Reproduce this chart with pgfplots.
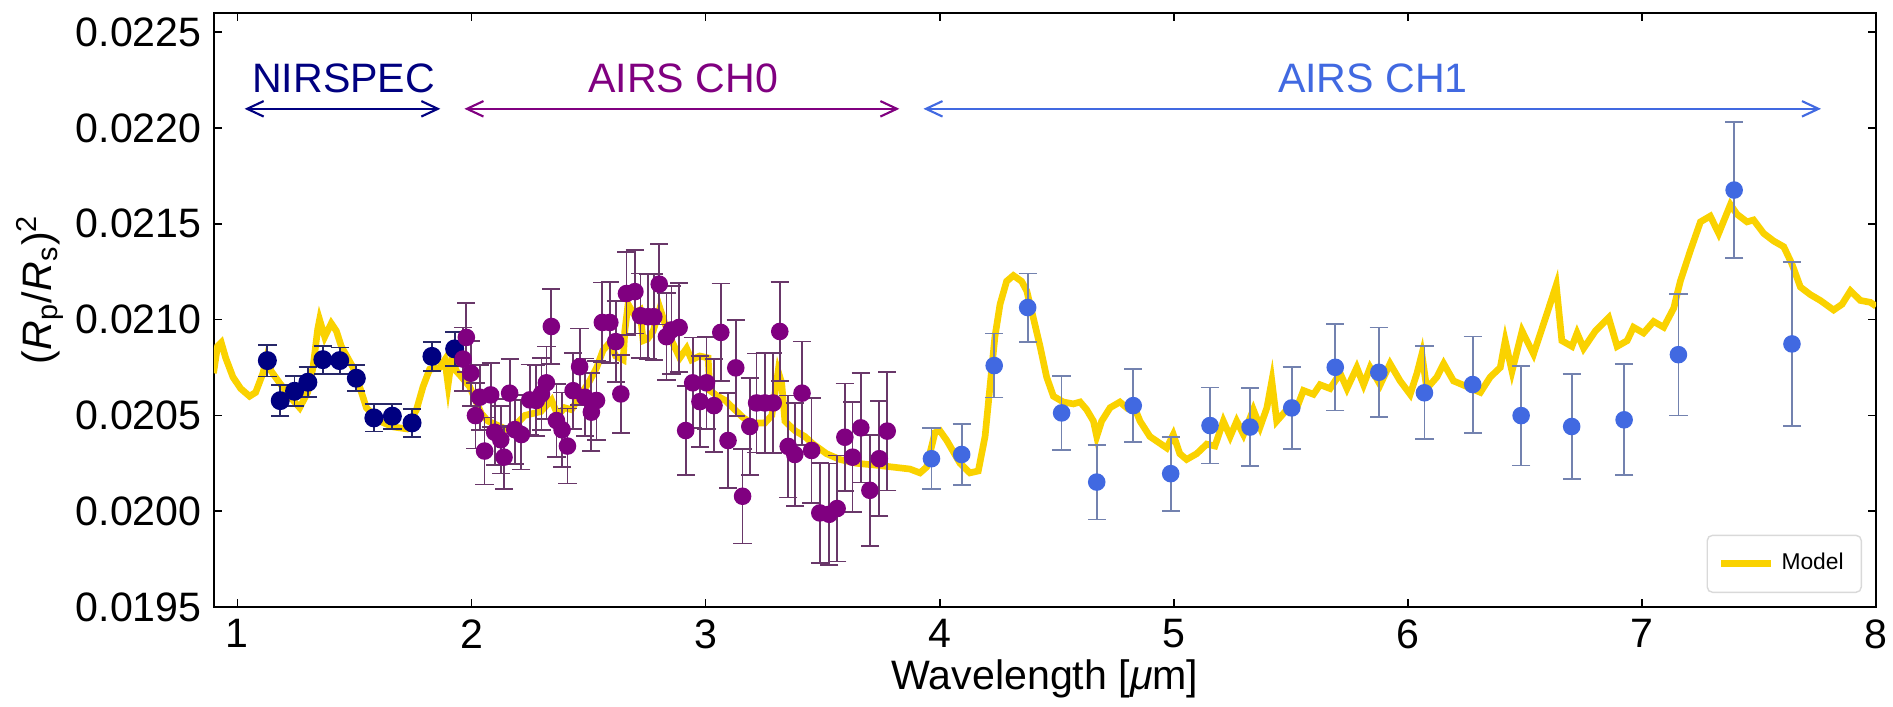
\documentclass[border=0pt]{standalone}
\usepackage{fontspec}
\setmainfont{Liberation Sans}
\usepackage{pgfplots}
\usepackage{pgfplotstable}
\pgfplotsset{compat=1.18}
\usetikzlibrary{arrows.meta}

\definecolor{nirspec}{RGB}{0,0,128}
\definecolor{chzero}{RGB}{128,0,128}
\definecolor{chone}{RGB}{65,105,225}
\definecolor{nirerr}{RGB}{40,40,105}
\definecolor{chzeroerr}{RGB}{105,55,105}
\definecolor{choneerr}{RGB}{115,130,175}
\definecolor{model}{RGB}{250,210,0}

% NIRSPEC points: wavelength, depth, error
\pgfplotstableread{
x y e
1.128 0.020786 0.000083
1.183 0.020577 0.000082
1.244 0.020626 0.000078
1.301 0.020673 0.000078
1.365 0.020791 0.000073
1.437 0.020786 0.000068
1.508 0.020694 0.000068
1.583 0.020487 0.000071
1.662 0.020496 0.000065
1.746 0.020461 0.000073
1.831 0.020808 0.000077
1.928 0.020847 0.000090
}\nirspectab

% AIRS CH0
\pgfplotstableread{
x y e
1.964 0.020794 0.000165
1.978 0.020907 0.000180
1.997 0.020720 0.000170
2.017 0.020499 0.000172
2.035 0.020595 0.000170
2.056 0.020314 0.000175
2.082 0.020607 0.000168
2.099 0.020412 0.000172
2.125 0.020373 0.000176
2.139 0.020282 0.000165
2.163 0.020616 0.000178
2.185 0.020426 0.000180
2.213 0.020400 0.000182
2.249 0.020581 0.000185
2.277 0.020578 0.000186
2.299 0.020612 0.000188
2.320 0.020670 0.000190
2.341 0.020964 0.000194
2.363 0.020473 0.000192
2.387 0.020425 0.000195
2.410 0.020340 0.000196
2.434 0.020629 0.000198
2.462 0.020754 0.000200
2.484 0.020595 0.000202
2.512 0.020517 0.000204
2.534 0.020578 0.000205
2.559 0.020985 0.000208
2.591 0.020985 0.000210
2.616 0.020885 0.000212
2.638 0.020612 0.000203
2.662 0.021136 0.000215
2.698 0.021146 0.000218
2.722 0.021020 0.000220
2.754 0.021015 0.000222
2.779 0.021015 0.000224
2.802 0.021185 0.000210
2.833 0.020911 0.000228
2.854 0.020946 0.000230
2.887 0.020959 0.000232
2.915 0.020421 0.000234
2.945 0.020670 0.000236
2.976 0.020572 0.000238
3.004 0.020670 0.000240
3.036 0.020551 0.000243
3.065 0.020933 0.000255
3.096 0.020369 0.000248
3.129 0.020748 0.000250
3.158 0.020078 0.000246
3.189 0.020442 0.000255
3.218 0.020565 0.000258
3.253 0.020565 0.000260
3.289 0.020565 0.000262
3.317 0.020938 0.000260
3.353 0.020338 0.000266
3.381 0.020296 0.000268
3.412 0.020616 0.000270
3.453 0.020317 0.000274
3.488 0.019991 0.000262
3.528 0.019984 0.000265
3.562 0.020014 0.000277
3.595 0.020386 0.000280
3.628 0.020282 0.000288
3.663 0.020435 0.000285
3.702 0.020109 0.000290
3.742 0.020274 0.000300
3.776 0.020418 0.000310
}\chzerotab

% AIRS CH1
\pgfplotstableread{
x y e
3.965 0.020274 0.000160
4.094 0.020296 0.000158
4.233 0.020760 0.000167
4.376 0.021063 0.000178
4.521 0.020513 0.000194
4.671 0.020152 0.000195
4.827 0.020551 0.000191
4.987 0.020196 0.000193
5.155 0.020447 0.000198
5.326 0.020439 0.000203
5.504 0.020539 0.000214
5.690 0.020751 0.000225
5.876 0.020725 0.000234
6.071 0.020618 0.000243
6.277 0.020661 0.000251
6.484 0.020499 0.000260
6.700 0.020442 0.000275
6.924 0.020477 0.000290
7.156 0.020817 0.000318
7.394 0.021676 0.000354
7.641 0.020873 0.000427
}\chonetab

% model spectrum, traced
\pgfplotstableread{
x y
0.898 0.02072
0.915 0.02086
0.931 0.02088
0.950 0.02080
0.981 0.02070
1.014 0.02064
1.052 0.02060
1.078 0.02062
1.109 0.02072
1.125 0.02080
1.145 0.02073
1.180 0.02067
1.237 0.02058
1.266 0.02054
1.300 0.02062
1.323 0.02075
1.343 0.02095
1.351 0.02100
1.373 0.02091
1.401 0.02098
1.423 0.02094
1.444 0.02086
1.494 0.02075
1.522 0.02065
1.551 0.02054
1.608 0.02047
1.665 0.02044
1.722 0.02043
1.765 0.02053
1.793 0.02065
1.821 0.02074
1.864 0.02075
1.886 0.02079
1.900 0.02066
1.916 0.02080
1.936 0.02073
1.958 0.02070
1.992 0.02065
2.042 0.02051
2.071 0.02047
2.108 0.02045
2.163 0.02042
2.228 0.02050
2.296 0.02052
2.342 0.02058
2.369 0.02050
2.398 0.02054
2.427 0.02053
2.463 0.02060
2.505 0.02068
2.535 0.02075
2.562 0.02084
2.591 0.02088
2.616 0.02081
2.648 0.02079
2.655 0.02094
2.669 0.02108
2.693 0.02103
2.720 0.02105
2.733 0.02089
2.753 0.02090
2.776 0.02094
2.805 0.02106
2.826 0.02098
2.847 0.02091
2.890 0.02080
2.919 0.02085
2.940 0.02079
2.975 0.02081
3.011 0.02080
3.018 0.02063
3.052 0.02060
3.082 0.02058
3.125 0.02053
3.159 0.02049
3.196 0.02046
3.253 0.02046
3.283 0.02050
3.310 0.02073
3.325 0.02067
3.339 0.02047
3.382 0.02042
3.424 0.02039
3.460 0.02035
3.517 0.02030
3.574 0.02027
3.645 0.02025
3.731 0.02024
3.802 0.02023
3.873 0.02022
3.916 0.02020
3.944 0.02023
3.980 0.02041
4.001 0.02042
4.030 0.02037
4.087 0.02025
4.129 0.02020
4.165 0.02021
4.194 0.02039
4.215 0.02065
4.236 0.02091
4.258 0.02108
4.286 0.02120
4.315 0.02123
4.350 0.02120
4.372 0.02115
4.400 0.02101
4.429 0.02086
4.457 0.02070
4.486 0.02060
4.528 0.02057
4.571 0.02056
4.600 0.02057
4.628 0.02053
4.657 0.02047
4.671 0.02039
4.692 0.02047
4.728 0.02054
4.770 0.02057
4.799 0.02054
4.826 0.02056
4.856 0.02047
4.898 0.02039
4.934 0.02036
4.970 0.02033
4.998 0.02040
5.026 0.02030
5.055 0.02027
5.098 0.02030
5.141 0.02035
5.176 0.02034
5.212 0.02047
5.241 0.02039
5.269 0.02047
5.298 0.02040
5.340 0.02053
5.369 0.02044
5.398 0.02054
5.419 0.02068
5.440 0.02047
5.483 0.02053
5.526 0.02054
5.554 0.02063
5.597 0.02061
5.625 0.02066
5.668 0.02064
5.711 0.02072
5.740 0.02064
5.782 0.02075
5.811 0.02066
5.839 0.02075
5.882 0.02066
5.924 0.02077
5.967 0.02068
6.010 0.02061
6.039 0.02072
6.060 0.02082
6.081 0.02064
6.124 0.02070
6.153 0.02077
6.195 0.02068
6.253 0.02065
6.310 0.02062
6.352 0.02070
6.395 0.02075
6.416 0.02089
6.445 0.02073
6.488 0.02094
6.537 0.02082
6.594 0.02103
6.634 0.02118
6.658 0.02089
6.701 0.02086
6.723 0.02093
6.751 0.02085
6.801 0.02094
6.858 0.02101
6.894 0.02086
6.937 0.02089
6.964 0.02096
7.007 0.02093
7.050 0.02099
7.093 0.02096
7.136 0.02106
7.164 0.02120
7.207 0.02136
7.250 0.02151
7.292 0.02154
7.328 0.02145
7.378 0.02160
7.406 0.02155
7.449 0.02151
7.477 0.02152
7.520 0.02145
7.563 0.02141
7.606 0.02138
7.641 0.02129
7.677 0.02117
7.720 0.02113
7.762 0.02110
7.819 0.02105
7.855 0.02108
7.891 0.02115
7.933 0.02110
7.976 0.02109
8.000 0.02107
}\modeltab

\begin{document}
\begin{tikzpicture}[font=\fontsize{11.7}{14}\selectfont]
\begin{axis}[
  scale only axis,
  width=16.62cm, height=5.94cm,
  xmin=0.9, xmax=8,
  ymin=0.0195, ymax=0.0226,
  xtick={1,2,3,4,5,6,7,8},
  ytick={0.0195,0.0200,0.0205,0.0210,0.0215,0.0220,0.0225},
  scaled y ticks=false,
  yticklabel style={/pgf/number format/.cd, fixed, fixed zerofill, precision=4},
  /pgf/number format/assume math mode=true,
  tick align=inside,
  major tick length=0.08cm,
  minor tick num=0,
  axis line style={line width=0.6pt},
  every tick/.style={black, line width=0.5pt},
  xlabel={Wavelength [\textit{μ}m]},
  xlabel style={yshift=0.13cm},
  ylabel={(\textit{R}\textsubscript{p}/\textit{R}\textsubscript{s})\textsuperscript{2}},
  ylabel style={at={(axis description cs:-0.1047,0.535)}, anchor=center},
  legend style={at={(1,0)}, anchor=south east, xshift=-0.14cm, yshift=0.14cm,
    draw=black!15, rounded corners=1.5pt, font=\fontsize{6.5}{8}\selectfont,
    inner xsep=3pt, inner ysep=3pt},
  legend cell align=left,
  legend image code/.code={\draw[#1] (0cm,0cm) -- (0.5cm,0cm);},
]
\addplot[model, line width=1.9pt] table[x=x, y=y] {\modeltab};
\addlegendentry{Model}

\addplot[only marks, mark=*, mark size=2.5pt, color=nirspec, forget plot,
  error bars/.cd, y dir=both, y explicit,
  error bar style={color=nirerr, line width=0.5pt},
  error mark options={rotate=90, mark size=2.6pt, line width=0.5pt, color=nirerr}]
  table[x=x, y=y, y error=e] {\nirspectab};

\addplot[only marks, mark=*, mark size=2.3pt, color=chzero, forget plot,
  error bars/.cd, y dir=both, y explicit,
  error bar style={color=chzeroerr, line width=0.5pt},
  error mark options={rotate=90, mark size=2.6pt, line width=0.5pt, color=chzeroerr}]
  table[x=x, y=y, y error=e] {\chzerotab};

\addplot[only marks, mark=*, mark size=2.3pt, color=chone, forget plot,
  error bars/.cd, y dir=both, y explicit,
  error bar style={color=choneerr, line width=0.5pt},
  error mark options={rotate=90, mark size=2.6pt, line width=0.5pt, color=choneerr}]
  table[x=x, y=y, y error=e] {\chonetab};

% instrument ranges
\draw[nirspec, line width=0.6pt, {Straight Barb[length=4.7pt,width=4.4pt]}-{Straight Barb[length=4.7pt,width=4.4pt]}]
  (axis cs:1.031,0.02210) -- (axis cs:1.867,0.02210);
\draw[chzero, line width=0.6pt, {Straight Barb[length=4.7pt,width=4.4pt]}-{Straight Barb[length=4.7pt,width=4.4pt]}]
  (axis cs:1.970,0.02210) -- (axis cs:3.828,0.02210);
\draw[chone, line width=0.6pt, {Straight Barb[length=4.7pt,width=4.4pt]}-{Straight Barb[length=4.7pt,width=4.4pt]}]
  (axis cs:3.931,0.02210) -- (axis cs:7.765,0.02210);
\node[nirspec] at (axis cs:1.454,0.02226) {NIRSPEC};
\node[chzero] at (axis cs:2.904,0.02226) {AIRS CH0};
\node[chone] at (axis cs:5.851,0.02226) {AIRS CH1};
\end{axis}
\pgfresetboundingbox
\path (current axis.south west) ++(-2.14cm,-0.99cm) rectangle ++(18.93cm,7.06cm);
\end{tikzpicture}
\end{document}
